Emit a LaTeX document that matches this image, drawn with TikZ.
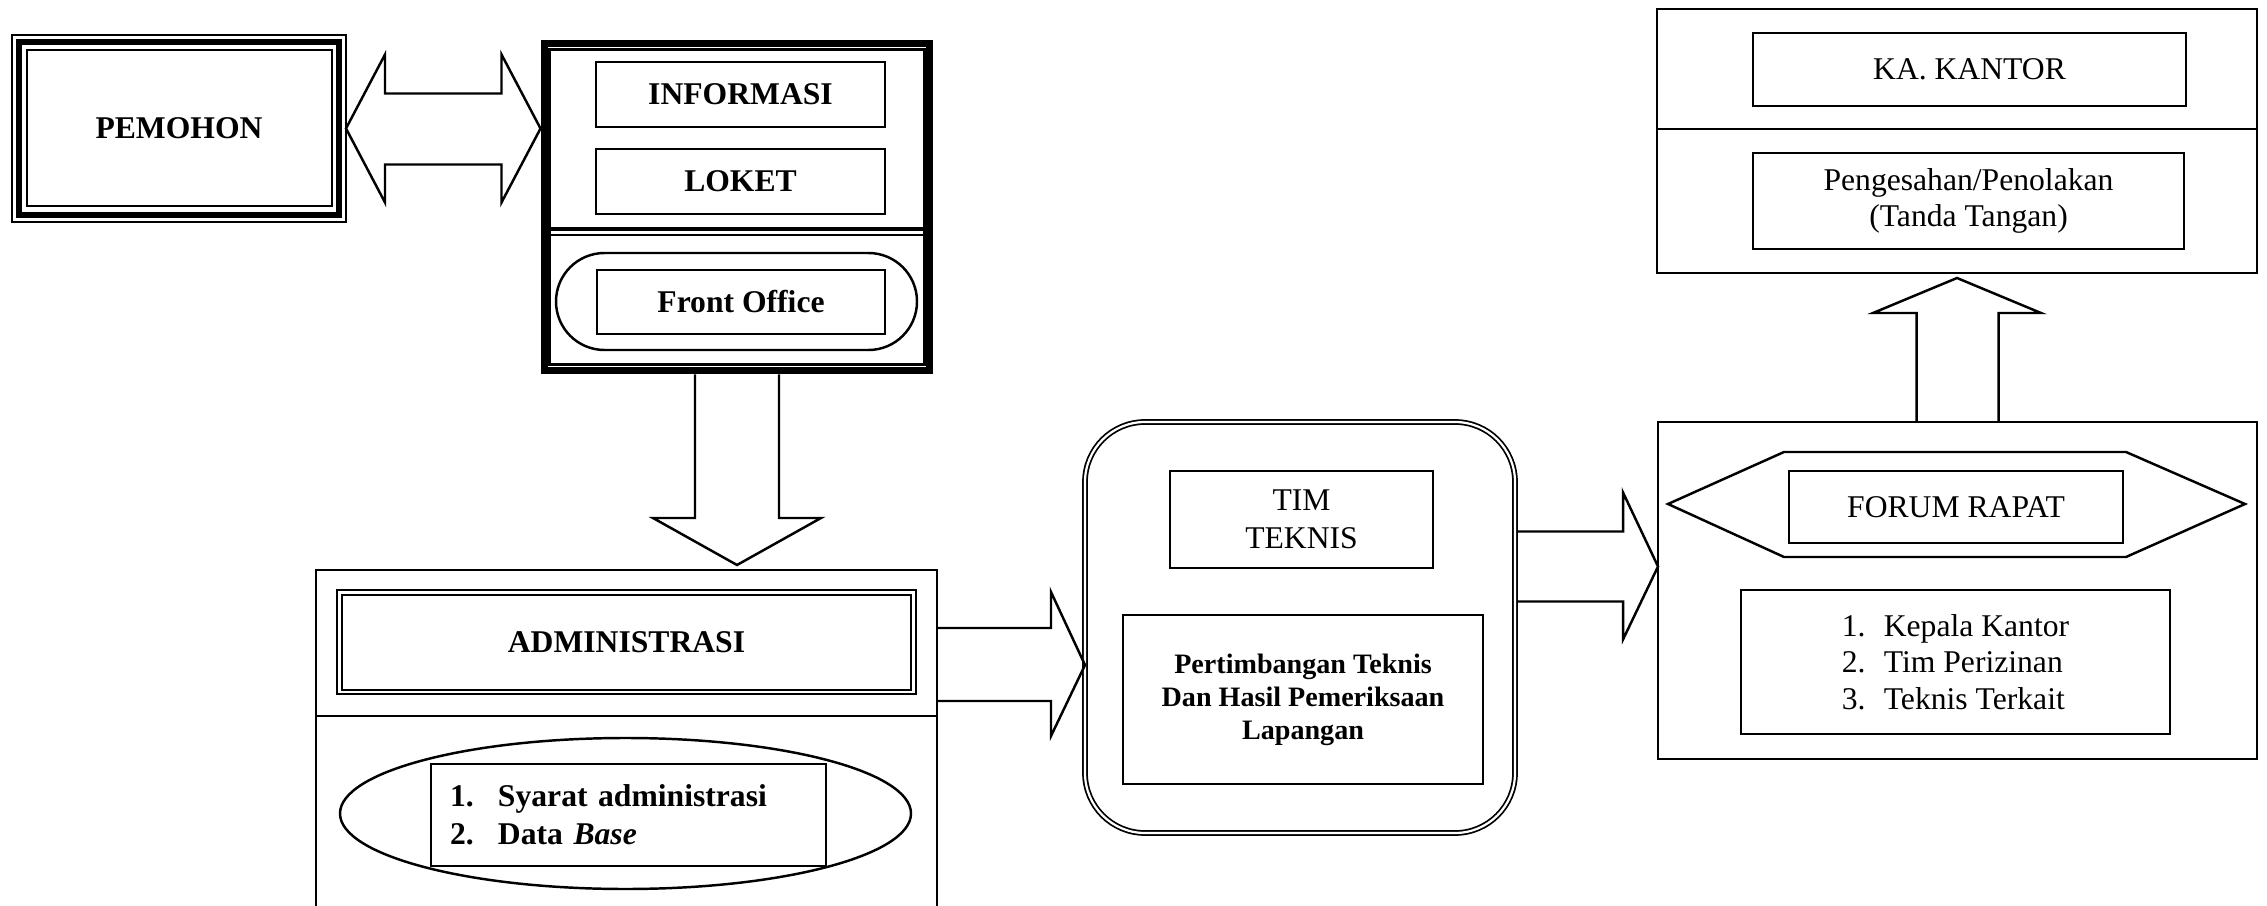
\documentclass[tikz,border=0pt]{standalone}
\usepackage{fontspec}
\setmainfont{Liberation Serif}
\usetikzlibrary{calc}
\usetikzlibrary{shapes.geometric}

\tikzset{
 kotak/.style={draw, line width=.7pt, inner sep=0pt, outer sep=0pt, align=center, font=\fontsize{9}{10.8}\selectfont},
 tebal/.style={kotak, font=\fontsize{9}{10.8}\selectfont\bfseries},
 ganda/.style={double, double distance=.8pt, line width=.55pt},
 blok/.style={line width=.7pt, line join=miter},
}

\begin{document}
\begin{tikzpicture}[x=.1mm, y=-.1mm]
\useasboundingbox (0,0) rectangle (2267,906);

% pemohon dan front office
\node[tebal, minimum width=33.4mm, minimum height=18.7mm] (pemohon) at (179,128.5) {PEMOHON};
\draw[line width=1.5pt] ($(pemohon.south west)+(7,-7)$) rectangle ($(pemohon.north east)+(-7,7)$);
\draw[line width=.7pt] ($(pemohon.south west)+(15,-16)$) rectangle ($(pemohon.north east)+(-14,15)$);
\node[kotak, line width=1.8pt, minimum width=38.5mm, minimum height=32.7mm] (office) at (737,207) {};
\draw[line width=.7pt] ($(office.south west)+(5,-6)$) rectangle ($(office.north east)+(-5,6)$);
\draw[line width=1.1pt] ($(office.west)+(5,22)$) -- ($(office.east)+(-5,22)$);
\draw[line width=.7pt] ($(office.west)+(5,28)$) -- ($(office.east)+(-5,28)$);
\node[tebal, minimum width=28.9mm, minimum height=6.5mm] (informasi) at (740.5,94.5) {INFORMASI};
\node[tebal, minimum width=28.9mm, minimum height=6.5mm] (loket) at (740.5,181.5) {LOKET};
\node[kotak, rounded corners=4.85mm, minimum width=36.1mm, minimum height=9.7mm] (cincin) at (736.5,301.5) {};
\node[tebal, minimum width=28.8mm, minimum height=6.4mm] (front) at (741,302) {Front Office};

% administrasi
\node[minimum width=62.1mm, minimum height=36mm, inner sep=0pt, outer sep=0pt] (admin) at (626.5,750) {};
\draw[line width=.8pt] (admin.south west) -- (admin.north west) -- (admin.north east) -- (admin.south east);
\node[tebal, ganda, minimum width=57.4mm, minimum height=9.95mm] (admjudul) at (626.5,642.25) {ADMINISTRASI};
\draw[line width=.7pt] ($(admin.north west)+(0,146)$) -- ($(admin.north east)+(0,146)$);
\node[kotak, ellipse, minimum width=57.1mm, minimum height=15.1mm] (elips) at (625.5,813.5) {};
\node[tebal, minimum width=39.5mm, minimum height=10.2mm, text width=35.7mm, inner xsep=1.9mm, align=left] (syarat) at (628.5,815)
 {\makebox[4.8mm][l]{1.}Syarat administrasi\\\makebox[4.8mm][l]{2.}Data \textit{Base}};

% tim teknis
\node[kotak, ganda, double distance=.63pt, line width=.5pt, rounded corners=6mm, minimum width=43mm, minimum height=41.1mm] (tim) at (1300,627.5) {};
\node[kotak, minimum width=26.3mm, minimum height=9.7mm] (timteknis) at (1301.5,519.5) {TIM\\TEKNIS};
\node[tebal, font=\fontsize{8}{9.4}\selectfont\bfseries, minimum width=36mm, minimum height=16.9mm] (pertimbangan) at (1303,699.5)
 {Pertimbangan Teknis\\Dan Hasil Pemeriksaan\\Lapangan};

% forum rapat
\node[kotak, minimum width=59.9mm, minimum height=33.7mm] (forum) at (1957.5,590.5) {};
\node[kotak, minimum width=33.4mm, minimum height=7.2mm] (rapat) at (1956,507) {FORUM RAPAT};
\draw[line width=.7pt] ($(rapat)+(-288,-3)$) -- ($(rapat)+(-172,-55)$) -- ($(rapat)+(170,-55)$) -- ($(rapat)+(289,-3)$)
 -- ($(rapat)+(170,50)$) -- ($(rapat)+(-172,50)$) -- cycle;
\node[kotak, font=\fontsize{9}{10.4}\selectfont, minimum width=42.9mm, minimum height=14.4mm, align=left] (anggota) at (1955.5,662)
 {\makebox[4.2mm][l]{1.}Kepala Kantor\\\makebox[4.2mm][l]{2.}Tim Perizinan\\\makebox[4.2mm][l]{3.}Teknis Terkait};

% ka. kantor
\node[kotak, minimum width=60mm, minimum height=26.4mm] (kantor) at (1957,141) {};
\draw[line width=.7pt] ($(kantor.north west)+(0,120)$) -- ($(kantor.north east)+(0,120)$);
\node[kotak, minimum width=43.3mm, minimum height=7.3mm] (kakantor) at (1969.5,69.5) {KA. KANTOR};
\node[kotak, font=\fontsize{9}{10}\selectfont, minimum width=43.1mm, minimum height=9.6mm] (sah) at (1968.5,201)
 {Pengesahan/Penolakan\\(Tanda Tangan)};

% panah blok
\coordinate (ki) at (pemohon.east);
\coordinate (ka) at ($(office.west |- pemohon.east)+(-4,0)$);
\draw[blok] (ki) -- ($(ki)+(39,-74)$) -- ($(ki)+(39,-35)$) -- ($(ka)+(-39,-35)$) -- ($(ka)+(-39,-74)$) -- (ka)
 -- ($(ka)+(-39,74)$) -- ($(ka)+(-39,36)$) -- ($(ki)+(39,36)$) -- ($(ki)+(39,74)$) -- cycle;

\coordinate (t1) at ($(office.south)+(0,4)$);
\coordinate (t2) at ($(office.south |- admin.north)+(0,-5)$);
\draw[blok] ($(t1)+(-42,0)$) |- ($(t2)+(-84,-47)$) -- (t2) -- ($(t2)+(84,-47)$) -| ($(t1)+(42,0)$);

\coordinate (s1) at ($(admin.north east)+(0,95)$);
\coordinate (s2) at (tim.west |- s1);
\draw[blok] ($(s1)+(0,-37)$) -- ($(s2)+(-34,-37)$) -- ($(s2)+(-34,-73)$) -- (s2) -- ($(s2)+(-34,71)$) -- ($(s2)+(-34,36)$) -- ($(s1)+(0,36)$);

\coordinate (u1) at ($(tim.east)+(3,-61)$);
\coordinate (u2) at (forum.west |- u1);
\draw[blok] ($(u1)+(0,-35)$) -- ($(u2)+(-35,-35)$) -- ($(u2)+(-35,-74)$) -- (u2) -- ($(u2)+(-35,73)$) -- ($(u2)+(-35,35)$) -- ($(u1)+(0,35)$);

\coordinate (v1) at (forum.north);
\coordinate (v2) at ($(kantor.south)+(0,5)$);
\draw[blok] ($(v1)+(-41,0)$) |- ($(v2)+(-84,35)$) -- (v2) -- ($(v2)+(84,35)$) -| ($(v1)+(41,0)$);
\end{tikzpicture}
\end{document}
